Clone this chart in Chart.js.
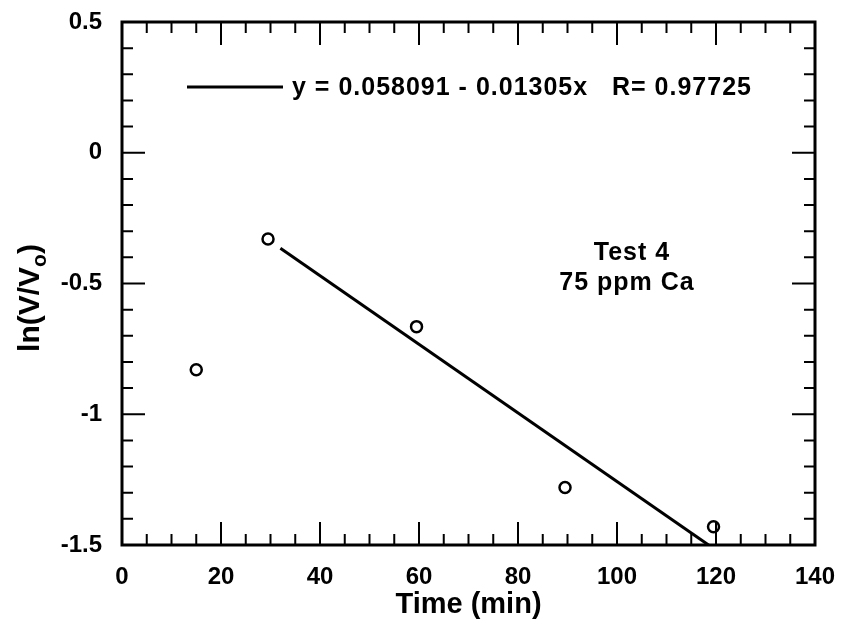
<!DOCTYPE html>
<html>
<head>
<meta charset="utf-8">
<script src="https://cdn.jsdelivr.net/npm/chart.js@4.4.1/dist/chart.umd.min.js"></script>
<style>
  html, body { margin: 0; padding: 0; background: #fff; }
  #wrap { width: 843px; height: 626px; }
</style>
</head>
<body>
<div id="wrap"><canvas id="chart" width="843" height="626"></canvas></div>
<script>
// measured points, Test 4
const timeMin = [15, 29.5, 59.5, 89.5, 119.5];
const lnRatio = [-0.83, -0.33, -0.665, -1.28, -1.43];

// fit line endpoints as drawn (clipped at bottom axis)
const fitX = [32, 118.5];
const fitY = [-0.365, -1.5];

const xTickLabels = ['0', '20', '40', '60', '80', '100', '120', '140'];
const yTickLabels = ['-1.5', '-1', '-0.5', '0', '0.5'];

const fitLabel = 'y = 0.058091 - 0.01305x   R= 0.97725';
const noteLines = ['Test 4', '75 ppm Ca'];

const FONT = "'Liberation Sans', Arial, sans-serif";

// inward ticks on all four sides + frame, legend and notes
const framePlugin = {
    id: 'frame',
    afterDraw(chart) {
        const ctx = chart.ctx;
        const a = chart.chartArea;
        const xs = chart.scales.x, ys = chart.scales.y;
        ctx.save();
        ctx.strokeStyle = '#000';
        ctx.lineWidth = 2;

        // x ticks: minor every 5, major every 20
        for (let v = 0; v <= 140; v += 5) {
            const px = xs.getPixelForValue(v);
            const len = (v % 20 === 0) ? 23 : 11;
            ctx.beginPath();
            ctx.moveTo(px, a.bottom); ctx.lineTo(px, a.bottom - len);
            ctx.moveTo(px, a.top); ctx.lineTo(px, a.top + len);
            ctx.stroke();
        }
        // y ticks: minor every 0.1, major every 0.5
        for (let i = 0; i <= 20; i++) {
            const v = -1.5 + i * 0.1;
            const py = ys.getPixelForValue(v);
            const len = (i % 5 === 0) ? 23 : 11;
            ctx.beginPath();
            ctx.moveTo(a.left, py); ctx.lineTo(a.left + len, py);
            ctx.moveTo(a.right, py); ctx.lineTo(a.right - len, py);
            ctx.stroke();
        }

        // frame
        ctx.lineWidth = 3;
        ctx.strokeRect(a.left, a.top, a.right - a.left, a.bottom - a.top);

        // legend
        ctx.lineWidth = 3;
        ctx.beginPath();
        ctx.moveTo(187, 87); ctx.lineTo(283, 87);
        ctx.stroke();
        ctx.fillStyle = '#000';
        ctx.font = 'bold 25px ' + FONT;
        ctx.letterSpacing = '1px';
        ctx.textBaseline = 'middle';
        ctx.textAlign = 'left';
        ctx.fillText(fitLabel, 292, 88);

        // notes
        ctx.font = 'bold 25px ' + FONT;
        ctx.textAlign = 'center';
        ctx.fillText(noteLines[0], 632, 253);
        ctx.fillText(noteLines[1], 627, 283);
        ctx.letterSpacing = '0px';

        // y axis title with subscript
        ctx.translate(31, 298);
        ctx.rotate(-Math.PI / 2);
        ctx.font = 'bold 30px ' + FONT;
        ctx.textAlign = 'left';
        const main = 'ln(V/V';
        const w1 = ctx.measureText(main).width;
        ctx.font = 'bold 21px ' + FONT;
        const w2 = ctx.measureText('o').width;
        ctx.font = 'bold 30px ' + FONT;
        const w3 = ctx.measureText(')').width;
        const start = -(w1 + w2 + w3) / 2;
        ctx.fillText(main, start, 0);
        ctx.font = 'bold 21px ' + FONT;
        ctx.fillText('o', start + w1, 9);
        ctx.font = 'bold 30px ' + FONT;
        ctx.fillText(')', start + w1 + w2, 0);
        ctx.restore();
    }
};

const ctx = document.getElementById('chart').getContext('2d');
new Chart(ctx, {
    type: 'scatter',
    data: {
        datasets: [
            {
                label: 'data',
                data: timeMin.map((t, i) => ({ x: t, y: lnRatio[i] })),
                pointStyle: 'circle',
                pointRadius: 5.5,
                pointBorderWidth: 2.5,
                pointBorderColor: '#000',
                pointBackgroundColor: '#fff',
                showLine: false
            },
            {
                label: 'fit',
                data: fitX.map((t, i) => ({ x: t, y: fitY[i] })),
                showLine: true,
                borderColor: '#000',
                borderWidth: 3,
                pointRadius: 0
            }
        ]
    },
    options: {
        responsive: false,
        animation: false,
        layout: { padding: { top: 22, right: 28, left: 0, bottom: 0 } },
        plugins: {
            legend: { display: false },
            tooltip: { enabled: false }
        },
        scales: {
            x: {
                type: 'linear',
                min: 0, max: 140,
                afterFit(s) { s.height = 81; s.paddingLeft = 0; s.paddingRight = 0; },
                grid: { display: false },
                border: { display: false },
                ticks: {
                    stepSize: 20,
                    color: '#000',
                    padding: 10,
                    maxRotation: 0,
                    font: { family: FONT, size: 24, weight: 'bold' },
                    callback: (v) => xTickLabels[Math.round(v / 20)]
                },
                title: {
                    display: true,
                    text: 'Time (min)',
                    color: '#000',
                    padding: { top: -2 },
                    font: { family: FONT, size: 29, weight: 'bold' }
                }
            },
            y: {
                type: 'linear',
                min: -1.5, max: 0.5,
                afterFit(s) { s.width = 122; s.paddingTop = 0; s.paddingBottom = 0; },
                grid: { display: false },
                border: { display: false },
                ticks: {
                    stepSize: 0.5,
                    color: '#000',
                    padding: 12,
                    font: { family: FONT, size: 24, weight: 'bold' },
                    callback: (v) => yTickLabels[Math.round((v + 1.5) / 0.5)]
                }
            }
        }
    },
    plugins: [framePlugin]
});
</script>
</body>
</html>
